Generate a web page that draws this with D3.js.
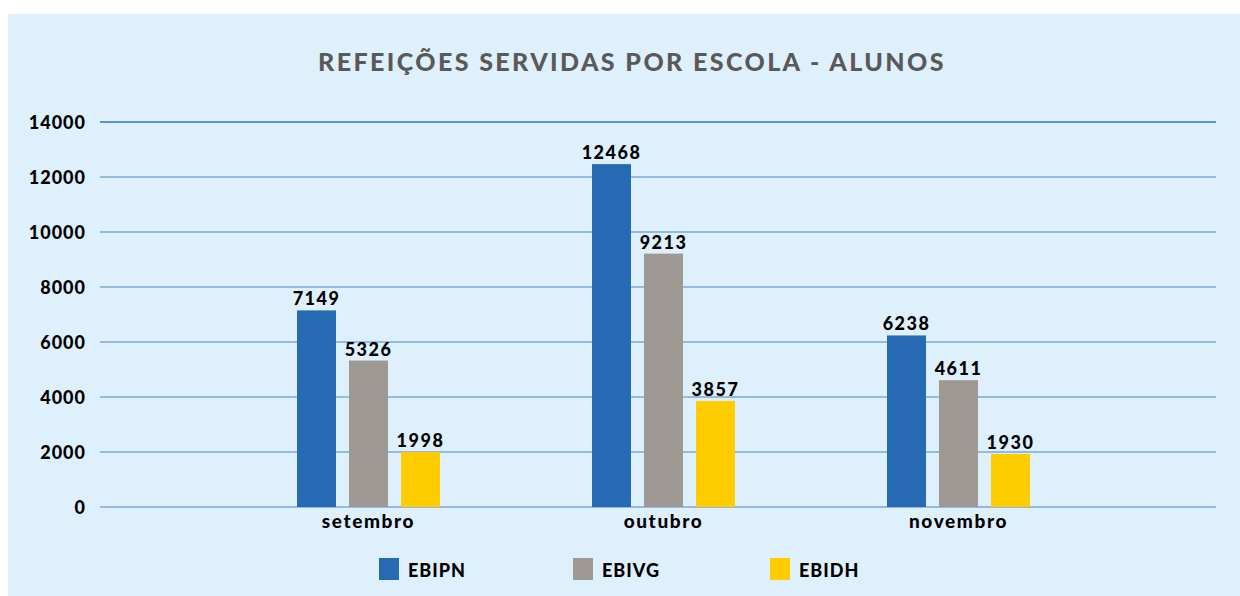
<!DOCTYPE html>
<html>
<head>
<meta charset="utf-8">
<script src="https://cdn.jsdelivr.net/npm/d3@7"></script>
<style>
body { margin: 0; background: #fff; }
text { font-family: Lato, "Open Sans", sans-serif; font-weight: 900; }
</style>
</head>
<body>
<script>
var months = ["setembro", "outubro", "novembro"];
var schools = ["EBIPN", "EBIVG", "EBIDH"];
var colors = ["#276ab4", "#9e9993", "#ffcc00"];
var EBIPN = [7149, 12468, 6238];
var EBIVG = [5326, 9213, 4611];
var EBIDH = [1998, 3857, 1930];
var ticks = [0, 2000, 4000, 6000, 8000, 10000, 12000, 14000];

var series = [EBIPN, EBIVG, EBIDH];

var svg = d3.select("body").append("svg")
    .attr("width", 1240)
    .attr("height", 596);

svg.append("rect")
    .attr("x", 8).attr("y", 14)
    .attr("width", 1232).attr("height", 582)
    .attr("fill", "#dff0fd");

svg.append("text")
    .attr("x", 632).attr("y", 71)
    .attr("text-anchor", "middle")
    .attr("fill", "#595959")
    .style("font-size", "25px")
    .style("letter-spacing", "2.4px")
    .text("REFEIÇÕES SERVIDAS POR ESCOLA - ALUNOS");

var y = d3.scaleLinear().domain([0, 14000]).range([507, 122]);
var x = d3.scaleBand().domain(months).range([221, 1106]);
var xs = d3.scaleBand().domain(schools).range([-71.5, 71.5]).paddingInner(0.25);

// grid
svg.append("g")
    .selectAll("line")
    .data(ticks)
    .join("line")
    .attr("x1", 100).attr("x2", 1216)
    .attr("y1", d => y(d)).attr("y2", d => y(d))
    .attr("stroke", d => d == 14000 ? "#2f74c2" : "#79a9d8")
    .attr("stroke-width", 1.5);

svg.append("g")
    .selectAll("text")
    .data(ticks)
    .join("text")
    .attr("x", 86)
    .attr("y", d => y(d) + 7)
    .attr("text-anchor", "end")
    .style("font-size", "18px")
    .style("letter-spacing", "1px")
    .attr("fill", "#000")
    .text(d => d);

// bars
var groups = svg.append("g")
    .selectAll("g")
    .data(months)
    .join("g")
    .attr("transform", d => `translate(${x(d) + x.bandwidth() / 2},0)`);

groups.selectAll("rect")
    .data((m, i) => schools.map((s, j) => ({ s: s, v: series[j][i], c: colors[j] })))
    .join("rect")
    .attr("x", d => xs(d.s))
    .attr("width", xs.bandwidth())
    .attr("y", d => y(d.v))
    .attr("height", d => y(0) - y(d.v))
    .attr("fill", d => d.c);

groups.selectAll("text.val")
    .data((m, i) => schools.map((s, j) => ({ s: s, v: series[j][i] })))
    .join("text")
    .attr("class", "val")
    .attr("x", d => xs(d.s) + xs.bandwidth() / 2)
    .attr("y", d => y(d.v) - 5)
    .attr("text-anchor", "middle")
    .style("font-size", "18px")
    .style("letter-spacing", "1.5px")
    .text(d => d.v);

groups.append("text")
    .attr("y", 528)
    .attr("text-anchor", "middle")
    .style("font-size", "19px")
    .style("letter-spacing", "1.6px")
    .text(d => d);

// legend
var legX = [379, 573, 770];
var leg = svg.append("g")
    .selectAll("g")
    .data(schools)
    .join("g")
    .attr("transform", (d, i) => `translate(${legX[i]},558)`);
leg.append("rect")
    .attr("width", 20).attr("height", 22)
    .attr("fill", (d, i) => colors[i]);
leg.append("text")
    .attr("x", 29).attr("y", 19)
    .style("font-size", "18px")
    .style("letter-spacing", "1px")
    .text(d => d);
</script>
</body>
</html>
